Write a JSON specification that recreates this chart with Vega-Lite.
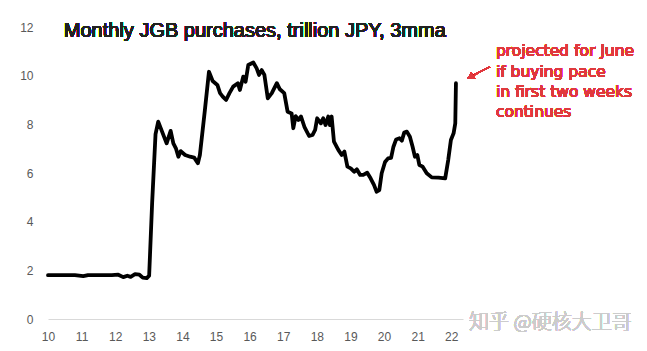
{
  "$schema": "https://vega.github.io/schema/vega-lite/v6.json",
  "autosize": "none",
  "width": 415,
  "height": 292,
  "padding": {"left": 48, "top": 27, "right": 184, "bottom": 32},
  "background": "white",
  "config": {
    "view": {"stroke": null},
    "font": "Liberation Sans",
    "axisX": {"title": null, "grid": false, "ticks": false, "tickSize": 0, "domainColor": "#d9d9d9", "domainWidth": 1,
              "labelColor": "#595959", "labelFontSize": 12, "labelPadding": 12, "labelFlush": false, "labelOverlap": false},
    "axisY": {"title": null, "grid": false, "domain": false, "ticks": false, "tickSize": 0, "labelColor": "#595959",
              "labelFontSize": 12, "labelPadding": 15, "labelFlush": false, "labelOverlap": false}
  },
  "data": {"values": [
    {"t": 10.00, "v": 1.80}, {"t": 10.36, "v": 1.80}, {"t": 10.80, "v": 1.80}, {"t": 11.05, "v": 1.76},
    {"t": 11.19, "v": 1.80}, {"t": 11.55, "v": 1.80}, {"t": 11.90, "v": 1.80}, {"t": 12.09, "v": 1.82},
    {"t": 12.24, "v": 1.72}, {"t": 12.36, "v": 1.78}, {"t": 12.46, "v": 1.73}, {"t": 12.59, "v": 1.84},
    {"t": 12.72, "v": 1.82}, {"t": 12.82, "v": 1.70}, {"t": 12.94, "v": 1.68}, {"t": 13.01, "v": 1.78},
    {"t": 13.10, "v": 4.80}, {"t": 13.20, "v": 7.60}, {"t": 13.28, "v": 8.11}, {"t": 13.53, "v": 7.22},
    {"t": 13.65, "v": 7.73}, {"t": 13.73, "v": 7.22}, {"t": 13.81, "v": 7.00}, {"t": 13.88, "v": 6.67},
    {"t": 13.95, "v": 6.90}, {"t": 14.08, "v": 6.74}, {"t": 14.23, "v": 6.67}, {"t": 14.35, "v": 6.63},
    {"t": 14.46, "v": 6.40}, {"t": 14.52, "v": 6.74}, {"t": 14.67, "v": 8.60}, {"t": 14.79, "v": 10.16},
    {"t": 14.90, "v": 9.78}, {"t": 15.04, "v": 9.62}, {"t": 15.12, "v": 9.28}, {"t": 15.20, "v": 9.14},
    {"t": 15.30, "v": 9.00}, {"t": 15.40, "v": 9.28}, {"t": 15.51, "v": 9.55}, {"t": 15.65, "v": 9.69},
    {"t": 15.71, "v": 9.41}, {"t": 15.81, "v": 9.96}, {"t": 15.88, "v": 9.75}, {"t": 15.96, "v": 10.44},
    {"t": 16.11, "v": 10.54}, {"t": 16.21, "v": 10.30}, {"t": 16.28, "v": 10.03}, {"t": 16.36, "v": 10.23},
    {"t": 16.44, "v": 10.03}, {"t": 16.54, "v": 9.07}, {"t": 16.66, "v": 9.28}, {"t": 16.81, "v": 9.69},
    {"t": 16.90, "v": 9.44}, {"t": 17.03, "v": 9.28}, {"t": 17.13, "v": 8.52}, {"t": 17.25, "v": 8.45},
    {"t": 17.30, "v": 7.84}, {"t": 17.37, "v": 8.34}, {"t": 17.45, "v": 8.18}, {"t": 17.53, "v": 8.32},
    {"t": 17.63, "v": 7.90}, {"t": 17.77, "v": 7.52}, {"t": 17.87, "v": 7.56}, {"t": 17.95, "v": 7.77},
    {"t": 18.01, "v": 8.25}, {"t": 18.12, "v": 8.04}, {"t": 18.19, "v": 8.25}, {"t": 18.26, "v": 7.97},
    {"t": 18.34, "v": 8.32}, {"t": 18.39, "v": 7.97}, {"t": 18.44, "v": 8.32}, {"t": 18.51, "v": 7.29},
    {"t": 18.64, "v": 6.95}, {"t": 18.74, "v": 6.74}, {"t": 18.82, "v": 6.88}, {"t": 18.91, "v": 6.26},
    {"t": 19.01, "v": 6.19}, {"t": 19.11, "v": 6.05}, {"t": 19.19, "v": 6.15}, {"t": 19.29, "v": 5.92},
    {"t": 19.38, "v": 5.92}, {"t": 19.50, "v": 6.01}, {"t": 19.60, "v": 5.78}, {"t": 19.70, "v": 5.51},
    {"t": 19.78, "v": 5.23}, {"t": 19.86, "v": 5.30}, {"t": 19.93, "v": 5.99}, {"t": 20.03, "v": 6.45},
    {"t": 20.12, "v": 6.60}, {"t": 20.21, "v": 6.62}, {"t": 20.28, "v": 7.08}, {"t": 20.36, "v": 7.38},
    {"t": 20.46, "v": 7.43}, {"t": 20.53, "v": 7.33}, {"t": 20.60, "v": 7.66}, {"t": 20.68, "v": 7.70},
    {"t": 20.77, "v": 7.49}, {"t": 20.85, "v": 7.08}, {"t": 20.92, "v": 6.67}, {"t": 20.99, "v": 6.74},
    {"t": 21.05, "v": 6.33}, {"t": 21.15, "v": 6.26}, {"t": 21.27, "v": 5.99}, {"t": 21.42, "v": 5.82},
    {"t": 21.62, "v": 5.81}, {"t": 21.82, "v": 5.78}, {"t": 21.91, "v": 6.53}, {"t": 21.99, "v": 7.36},
    {"t": 22.07, "v": 7.63}, {"t": 22.12, "v": 8.04}, {"t": 22.14, "v": 9.69}
  ]},
  "layer": [
    {
      "mark": {"type": "line", "color": "#000000", "strokeWidth": 3.8, "strokeJoin": "round", "strokeCap": "round"},
      "encoding": {"x": {"field": "t", "type": "quantitative", "scale": {"domain": [10, 22.35], "nice": false, "zero": false},
          "axis": {"values": [10,11,12,13,14,15,16,17,18,19,20,21,22]}},
                   "y": {"field": "v", "type": "quantitative", "scale": {"domain": [0, 12], "nice": false},
          "axis": {"values": [0,2,4,6,8,10,12]}}}
    },
    {
      "mark": {"type": "text", "text": "Monthly JGB purchases, trillion JPY, 3mma", "align": "left",
               "baseline": "alphabetic", "fontSize": 20, "fill": "#222222", "fontWeight": "normal", "font": "Liberation Sans"},
      "encoding": {"x": {"datum": 10.47, "type": "quantitative", "axis": {"values": [10,11,12,13,14,15,16,17,18,19,20,21,22]}},
                   "y": {"datum": 11.6, "type": "quantitative", "axis": {"values": [0,2,4,6,8,10,12]}}}
    },
    {
      "mark": {"type": "text", "text": "projected for June", "align": "left", "baseline": "middle", "fontSize": 15.5, "fill": "#e0393e", "font": "DejaVu Sans"},
      "encoding": {"x": {"datum": 23.33, "type": "quantitative", "axis": {"values": [10,11,12,13,14,15,16,17,18,19,20,21,22]}},
                   "y": {"datum": 11.03, "type": "quantitative", "axis": {"values": [0,2,4,6,8,10,12]}}}
    },
    {
      "mark": {"type": "text", "text": "if buying pace", "align": "left", "baseline": "middle", "fontSize": 15.5, "fill": "#e0393e", "font": "DejaVu Sans"},
      "encoding": {"x": {"datum": 23.33, "type": "quantitative", "axis": {"values": [10,11,12,13,14,15,16,17,18,19,20,21,22]}},
                   "y": {"datum": 10.15, "type": "quantitative", "axis": {"values": [0,2,4,6,8,10,12]}}}
    },
    {
      "mark": {"type": "text", "text": "in first two weeks", "align": "left", "baseline": "middle", "fontSize": 15.5, "fill": "#e0393e", "font": "DejaVu Sans"},
      "encoding": {"x": {"datum": 23.33, "type": "quantitative", "axis": {"values": [10,11,12,13,14,15,16,17,18,19,20,21,22]}},
                   "y": {"datum": 9.32, "type": "quantitative", "axis": {"values": [0,2,4,6,8,10,12]}}}
    },
    {
      "mark": {"type": "text", "text": "continues", "align": "left", "baseline": "middle", "fontSize": 15.5, "fill": "#e0393e", "font": "DejaVu Sans"},
      "encoding": {"x": {"datum": 23.33, "type": "quantitative", "axis": {"values": [10,11,12,13,14,15,16,17,18,19,20,21,22]}},
                   "y": {"datum": 8.5, "type": "quantitative", "axis": {"values": [0,2,4,6,8,10,12]}}}
    },
    {
      "mark": {"type": "rule", "color": "#e0393e", "strokeWidth": 1.2},
      "encoding": {"x": {"datum": 23.15, "type": "quantitative", "axis": {"values": [10,11,12,13,14,15,16,17,18,19,20,21,22]}},
                   "y": {"datum": 10.37, "type": "quantitative", "axis": {"values": [0,2,4,6,8,10,12]}},
                   "x2": {"datum": 22.62}, "y2": {"datum": 9.99}}
    },
    {
      "mark": {"type": "point", "shape": "triangle-up", "filled": true, "fill": "#e0393e", "strokeWidth": 0, "size": 60, "angle": 242, "opacity": 1},
      "encoding": {"x": {"datum": 22.57, "type": "quantitative", "axis": {"values": [10,11,12,13,14,15,16,17,18,19,20,21,22]}},
                   "y": {"datum": 9.95, "type": "quantitative", "axis": {"values": [0,2,4,6,8,10,12]}}}
    },
    {
      "mark": {"type": "text", "text": "知乎 @硬核大卫哥", "align": "left", "baseline": "middle",
               "fontSize": 20, "fill": "#cccccc", "font": "Noto Sans CJK SC", "fontWeight": 300},
      "encoding": {"x": {"datum": 22.53, "type": "quantitative", "axis": {"values": [10,11,12,13,14,15,16,17,18,19,20,21,22]}},
                   "y": {"datum": -0.16, "type": "quantitative", "axis": {"values": [0,2,4,6,8,10,12]}}}
    }
  ]
}
